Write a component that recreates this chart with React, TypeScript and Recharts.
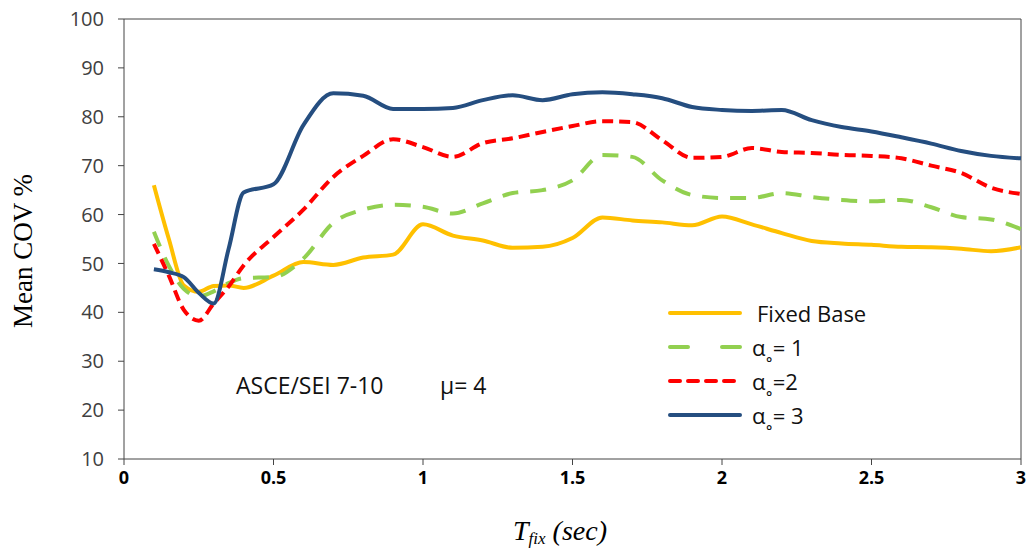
import React from "react";
import {
  LineChart,
  Line,
  XAxis,
  YAxis,
  ReferenceLine,
} from "recharts";

// period values (sec)
const periods = [
  0.1, 0.15, 0.2, 0.25, 0.3, 0.35, 0.4, 0.5, 0.6, 0.7, 0.8, 0.9, 1.0, 1.1, 1.2,
  1.3, 1.4, 1.5, 1.6, 1.7, 1.8, 1.9, 2.0, 2.1, 2.2, 2.3, 2.4, 2.5, 2.6, 2.7,
  2.8, 2.9, 3.0,
];

const fixedBase = [
  66, 55, 45.5, 44.2, 45.4, 45.5, 45, 47.5, 50.3, 49.7, 51.2, 51.8, 58, 55.7,
  54.7, 53.2, 53.4, 55.2, 59.4, 58.8, 58.4, 57.8, 59.6, 58, 56.2, 54.6, 54.1,
  53.8, 53.4, 53.3, 53, 52.5, 53.3,
];

const alpha1 = [
  56.5, 49.5, 44.8, 43.3, 44.3, 46, 47, 47.2, 51, 58.3, 61, 62, 61.6, 60.2,
  62.3, 64.4, 65, 67, 72.2, 71.8, 67, 64, 63.4, 63.4, 64.4, 63.6, 63, 62.7, 63,
  61.5, 59.5, 59, 57,
];

const alpha2 = [
  54, 47.5, 40.5, 38.3, 41.8, 45.3, 49.6, 55.4, 61, 67.7, 72, 75.4, 73.8,
  71.8, 74.6, 75.6, 76.9, 78.1, 79.1, 78.9, 75.2, 71.6, 71.8, 73.6, 72.8, 72.6,
  72.2, 72, 71.5, 70, 68.5, 65.5, 64.2,
];

const alpha3 = [
  48.8, 48.2, 47.2, 44, 41.8, 53, 64.5, 66.2, 78.3, 84.8, 84.3, 81.6, 81.6,
  81.8, 83.4, 84.4, 83.4, 84.6, 85, 84.6, 83.8, 82, 81.4, 81.2, 81.4, 79.3,
  77.9, 77, 75.8, 74.5, 73, 72, 71.5,
];

const xTicks = [0, 0.5, 1, 1.5, 2, 2.5, 3];
const yTicks = [10, 20, 30, 40, 50, 60, 70, 80, 90, 100];

const data = periods.map((t, i) => ({
  t,
  fixed: fixedBase[i],
  a1: alpha1[i],
  a2: alpha2[i],
  a3: alpha3[i],
}));

const series = [
  { key: "fixed", label: "Fixed Base", color: "#FFC000", dash: undefined },
  { key: "a1", label: "α˳= 1", color: "#92D050", dash: "16 12" },
  { key: "a2", label: "α˳=2", color: "#FF0000", dash: "11 6" },
  { key: "a3", label: "α˳= 3", color: "#254E80", dash: undefined },
];

const sans = "'Open Sans', sans-serif";
const serif = "'Liberation Serif', 'DejaVu Serif', serif";

export default function App() {
  return (
    <div
      style={{
        position: "absolute",
        left: 0,
        top: 0,
        width: 1028,
        height: 556,
        background: "#fff",
      }}
    >
      <LineChart
        width={1028}
        height={556}
        data={data}
        margin={{ top: 19, right: 7, left: 64, bottom: 0 }}
      >
        <XAxis
          dataKey="t"
          type="number"
          domain={[0, 3]}
          ticks={xTicks}
          stroke="#444"
          tickSize={6}
          tickMargin={6}
          height={97}
          tick={{ fill: "#000", fontSize: 18, fontWeight: 700, fontFamily: sans }}
        />
        <YAxis
          type="number"
          domain={[10, 100]}
          ticks={yTicks}
          stroke="#444"
          tickSize={6}
          tickMargin={14}
          width={60}
          tick={{ fill: "#404040", fontSize: 20, fontFamily: sans }}
        />
        <ReferenceLine y={100} stroke="#444" />
        <ReferenceLine x={3} stroke="#444" />
        {series.map((s) => (
          <Line
            key={s.key}
            dataKey={s.key}
            type="monotone"
            stroke={s.color}
            strokeWidth={4}
            strokeDasharray={s.dash}
            dot={false}
            isAnimationActive={false}
          />
        ))}
      </LineChart>

      {/* y axis title */}
      <div
        style={{
          position: "absolute",
          left: 23,
          top: 251,
          transform: "translate(-50%, -50%) rotate(-90deg)",
          fontFamily: serif,
          fontSize: 27,
          whiteSpace: "nowrap",
        }}
      >
        Mean COV %
      </div>

      {/* x axis title */}
      <div
        style={{
          position: "absolute",
          left: 513,
          top: 515,
          fontFamily: serif,
          fontStyle: "italic",
          fontSize: 28,
          whiteSpace: "nowrap",
        }}
      >
        T<sub style={{ fontSize: 17, verticalAlign: "-4px" }}>fix</sub>
        <span> (sec)</span>
      </div>

      {/* annotation */}
      <div
        style={{
          position: "absolute",
          left: 236,
          top: 369,
          fontFamily: sans,
          fontSize: 23,
          color: "#111",
          whiteSpace: "pre",
        }}
      >
        ASCE/SEI 7-10
      </div>
      <div
        style={{
          position: "absolute",
          left: 440,
          top: 369,
          fontFamily: sans,
          fontSize: 23,
          color: "#111",
          whiteSpace: "pre",
        }}
      >
        μ= 4
      </div>

      {/* legend */}
      <div style={{ position: "absolute", left: 668, top: 296 }}>
        {series.map((s) => (
          <div
            key={s.key}
            style={{ display: "flex", alignItems: "center", height: 34 }}
          >
            <svg width={74} height={10}>
              <line
                x1={2}
                y1={5}
                x2={72}
                y2={5}
                stroke={s.color}
                strokeWidth={4}
                strokeLinecap="round"
                strokeDasharray={
                  s.key === "a1" ? "18 34" : s.key === "a2" ? "10 8" : undefined
                }
              />
            </svg>
            <span
              style={{
                marginLeft: s.key === "fixed" ? 15 : 10,
                fontFamily: sans,
                fontSize: 22,
                color: "#111",
                whiteSpace: "pre",
              }}
            >
              {s.label}
            </span>
          </div>
        ))}
      </div>
    </div>
  );
}
